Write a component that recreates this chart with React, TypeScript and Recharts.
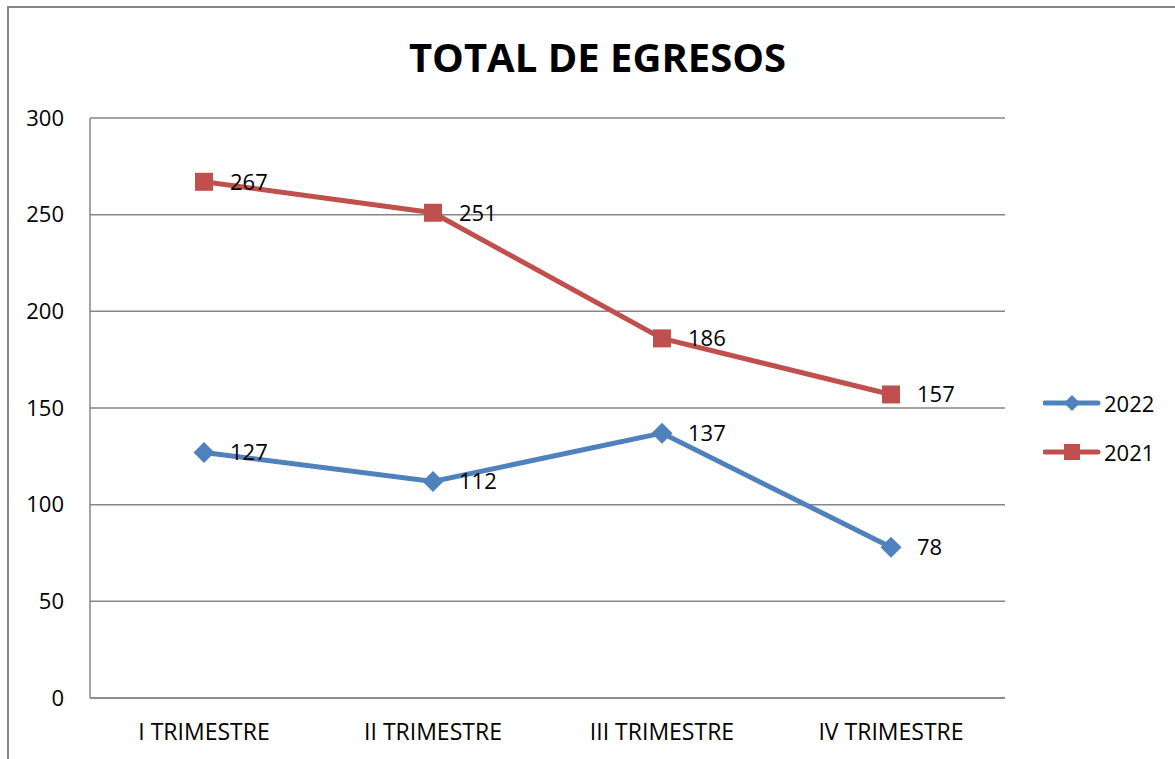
import { LineChart, Line, XAxis, YAxis, CartesianGrid, LabelList } from 'recharts';

const categories = ['I TRIMESTRE', 'II TRIMESTRE', 'III TRIMESTRE', 'IV TRIMESTRE'];
const egresos2022 = [127, 112, 137, 78];
const egresos2021 = [267, 251, 186, 157];
const yTicks = [0, 50, 100, 150, 200, 250, 300];

const BLUE = '#4F81BD';
const RED = '#C0504D';
const GRAY = '#868686';
const FONT = '"Open Sans", sans-serif';

const data = categories.map((name, i) => ({
  name,
  y2022: egresos2022[i],
  y2021: egresos2021[i],
}));

// diamond marker for 2022
const Diamond = (props: any) => {
  const { cx, cy } = props;
  if (cx == null || cy == null) return <g key={props.key} />;
  const r = 10.5;
  return (
    <path
      key={props.key}
      d={`M${cx},${cy - r} L${cx + r},${cy} L${cx},${cy + r} L${cx - r},${cy} Z`}
      fill={BLUE}
    />
  );
};

// square marker for 2021
const Square = (props: any) => {
  const { cx, cy } = props;
  if (cx == null || cy == null) return <g key={props.key} />;
  return <rect key={props.key} x={cx - 9} y={cy - 9} width={18} height={18} fill={RED} />;
};

const legendItems = [
  { label: '2022', color: BLUE, shape: 'diamond' },
  { label: '2021', color: RED, shape: 'square' },
];

function ChartLegend() {
  return (
    <div
      style={{
        position: 'absolute',
        left: 1043,
        top: 378,
        fontFamily: FONT,
        fontSize: 22,
        color: '#000',
      }}
    >
      {legendItems.map(item => (
        <div key={item.label} style={{ display: 'flex', alignItems: 'center', height: 49 }}>
          <svg width={58} height={20} style={{ display: 'block' }}>
            <line x1={2} y1={10} x2={55} y2={10} stroke={item.color} strokeWidth={5} strokeLinecap="round" />
            {item.shape === 'diamond' ? (
              <path d="M29,2 L37,10 L29,18 L21,10 Z" fill={item.color} />
            ) : (
              <rect x={21} y={2} width={16} height={16} fill={item.color} />
            )}
          </svg>
          <span style={{ marginLeft: 3, lineHeight: 1 }}>{item.label}</span>
        </div>
      ))}
    </div>
  );
}

export default function App() {
  return (
    <div style={{ position: 'absolute', left: 0, top: 0, width: 1175, height: 759, overflow: 'hidden', background: '#fff' }}>
      <div
        style={{
          position: 'absolute',
          left: 7,
          top: 6,
          width: 1200,
          height: 800,
          border: `2px solid ${GRAY}`,
          boxSizing: 'border-box',
        }}
      />
      <div
        style={{
          position: 'absolute',
          left: 0,
          top: 30,
          width: 1195,
          textAlign: 'center',
          fontFamily: FONT,
          fontWeight: 'bold',
          fontSize: 40,
          lineHeight: '54px',
          color: '#000',
        }}
      >
        TOTAL DE EGRESOS
      </div>
      <div style={{ position: 'absolute', left: 0, top: 0 }}>
        <LineChart
          width={1175}
          height={759}
          data={data}
          margin={{ top: 118, right: 170, bottom: 0, left: 0 }}
        >
          <CartesianGrid vertical={false} stroke={GRAY} strokeWidth={1.5} />
          <XAxis
            dataKey="name"
            height={61}
            padding={{ left: 114, right: 114 }}
            tickLine={false}
            axisLine={{ stroke: GRAY, strokeWidth: 1.5 }}
            tick={{ fill: '#000', fontSize: 23, fontFamily: FONT }}
            tickSize={0}
            tickMargin={26}
          />
          <YAxis
            width={90}
            domain={[0, 300]}
            ticks={yTicks}
            tickLine={false}
            axisLine={{ stroke: GRAY, strokeWidth: 1.5 }}
            tick={{ fill: '#000', fontSize: 22, fontFamily: FONT }}
            tickSize={0}
            tickMargin={26}
          />
          <Line
            dataKey="y2022"
            name="2022"
            stroke={BLUE}
            strokeWidth={5}
            dot={Diamond}
            activeDot={false}
            isAnimationActive={false}
          >
            <LabelList
              dataKey="y2022"
              position="right"
              offset={26}
              style={{ fill: '#000', fontSize: 22, fontFamily: FONT }}
            />
          </Line>
          <Line
            dataKey="y2021"
            name="2021"
            stroke={RED}
            strokeWidth={5}
            dot={Square}
            activeDot={false}
            isAnimationActive={false}
          >
            <LabelList
              dataKey="y2021"
              position="right"
              offset={26}
              style={{ fill: '#000', fontSize: 22, fontFamily: FONT }}
            />
          </Line>
        </LineChart>
      </div>
      <ChartLegend />
    </div>
  );
}
